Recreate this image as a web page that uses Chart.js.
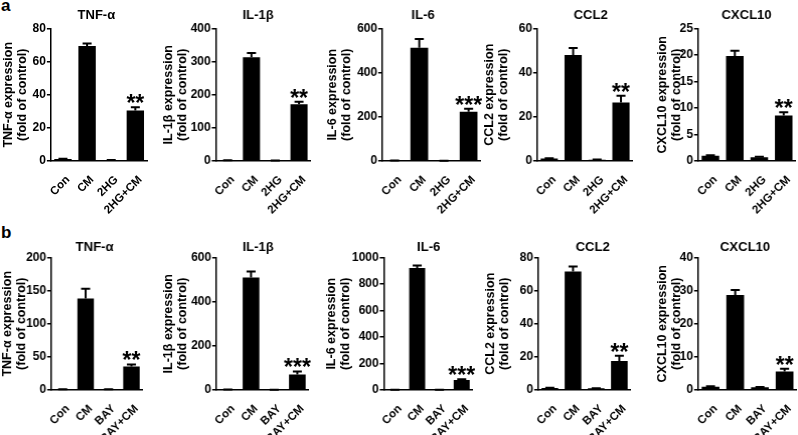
<!DOCTYPE html>
<html><head><meta charset="utf-8">
<script src="https://cdn.jsdelivr.net/npm/chart.js@4.4.1/dist/chart.umd.min.js"></script>
<style>
html,body{margin:0;padding:0;background:#fff;width:798px;height:435px;overflow:hidden;position:relative;font-family:"Liberation Sans",Arial,sans-serif}
.box{position:absolute}
.lbl{position:absolute;font-weight:bold;font-size:17px;line-height:17px;color:#000}
</style></head><body>
<div class="lbl" style="left:1px;top:-3px">a</div>
<div class="lbl" style="left:1px;top:224px">b</div>
<script>
// ---- data ----
const groupsA = ['Con', 'CM', '2HG', '2HG+CM'];
const groupsB = ['Con', 'CM', 'BAY', 'BAY+CM'];
const markers = ['TNF-α', 'IL-1β', 'IL-6', 'CCL2', 'CXCL10'];

const a_TNF    = [1.2, 69.5, 0.5, 30.5];  const a_TNF_err    = [0.2, 1.5, 0.1, 2.0];
const a_IL1b   = [2, 313, 1, 171];        const a_IL1b_err   = [0.5, 13, 0.3, 8];
const a_IL6    = [2, 513, 1, 223];        const a_IL6_err    = [0.5, 40, 0.3, 14];
const a_CCL2   = [1.1, 48, 0.6, 26.5];    const a_CCL2_err   = [0.1, 3.2, 0.1, 3.0];
const a_CXCL10 = [1.0, 19.8, 0.7, 8.6];   const a_CXCL10_err = [0.1, 1.0, 0.1, 0.6];

const b_TNF    = [1, 138, 1, 35.5];       const b_TNF_err    = [0.2, 15, 0.2, 3];
const b_IL1b   = [2, 510, 1, 70];         const b_IL1b_err   = [0.5, 27, 0.3, 14];
const b_IL6    = [2, 920, 1, 75];         const b_IL6_err    = [0.5, 20, 0.3, 6];
const b_CCL2   = [1.2, 71.5, 1, 17.5];    const b_CCL2_err   = [0.1, 3, 0.1, 3.2];
const b_CXCL10 = [1, 28.7, 0.8, 5.6];     const b_CXCL10_err = [0.1, 1.5, 0.1, 0.8];

const a_max  = [80, 400, 600, 60, 25];    const a_step = [20, 100, 200, 20, 5];
const b_max  = [200, 600, 1000, 80, 40];  const b_step = [50, 200, 200, 20, 10];
const a_sig  = ['**', '**', '***', '**', '**'];
const b_sig  = ['**', '***', '***', '**', '**'];

// ---- layout ----
const FONT = "'Liberation Sans', Arial, sans-serif";
const panelA = { groups: groupsA, top: 28.5, bottom: 161, titleY: 15, boxTop: 0, boxBottom: 215 };
const panelB = { groups: groupsB, top: 257.5, bottom: 390, titleY: 247, boxTop: 216, boxBottom: 435 };
const layA = [
  { axisX: 50.5, right: 147, titleX: 96,    ytX: 8.5 },
  { axisX: 215.5, right: 310, titleX: 257.5, ytX: 169 },
  { axisX: 382,  right: 480, titleX: 422.5, ytX: 333 },
  { axisX: 537,  right: 632, titleX: 590,   ytX: 490 },
  { axisX: 698,  right: 795, titleX: 746,   ytX: 663 }
];
const layB = [
  { axisX: 51,  right: 142, titleX: 94,    ytX: 8 },
  { axisX: 216, right: 308, titleX: 257.5, ytX: 169 },
  { axisX: 383.5, right: 472, titleX: 428, ytX: 332 },
  { axisX: 538, right: 630, titleX: 592,   ytX: 491 },
  { axisX: 698, right: 796, titleX: 744.5, ytX: 663 }
];

const aVals = [a_TNF, a_IL1b, a_IL6, a_CCL2, a_CXCL10];
const aErrs = [a_TNF_err, a_IL1b_err, a_IL6_err, a_CCL2_err, a_CXCL10_err];
const bVals = [b_TNF, b_IL1b, b_IL6, b_CCL2, b_CXCL10];
const bErrs = [b_TNF_err, b_IL1b_err, b_IL6_err, b_CCL2_err, b_CXCL10_err];

function makeChart(P, L, marker, values, errors, yMax, yStep, sig) {
  const left = L.ytX - 6.9;
  const width = L.right + 3 - left;
  const div = document.createElement('div');
  div.className = 'box';
  div.style.left = left + 'px';
  div.style.top = P.boxTop + 'px';
  div.style.width = width + 'px';
  div.style.height = (P.boxBottom - P.boxTop) + 'px';
  const cv = document.createElement('canvas');
  div.appendChild(cv);
  document.body.appendChild(div);

  const overlay = {
    id: 'overlay',
    afterDatasetsDraw(chart) {
      const ctx = chart.ctx;
      const ys = chart.scales.y;
      const meta = chart.getDatasetMeta(0);
      ctx.save();
      ctx.strokeStyle = '#000';
      ctx.fillStyle = '#000';
      ctx.lineWidth = 2;
      let lastTop = 0, lastX = 0;
      meta.data.forEach((bar, i) => {
        const x = bar.x;
        const yTop = ys.getPixelForValue(values[i]);
        const yE = ys.getPixelForValue(values[i] + errors[i]);
        ctx.beginPath();
        ctx.moveTo(x, yTop);
        ctx.lineTo(x, yE);
        ctx.moveTo(x - 4.5, yE);
        ctx.lineTo(x + 4.5, yE);
        ctx.stroke();
        lastTop = yE; lastX = x;
      });
      ctx.font = 'bold 23px ' + FONT;
      ctx.textAlign = 'center';
      ctx.textBaseline = 'alphabetic';
      const m = ctx.measureText(sig);
      ctx.fillText(sig, lastX, lastTop - 4 - m.actualBoundingBoxDescent);
      ctx.restore();
    },
    afterDraw(chart) {
      const ctx = chart.ctx;
      ctx.save();
      ctx.fillStyle = '#000';
      ctx.font = 'bold 13px ' + FONT;
      ctx.textAlign = 'center';
      ctx.textBaseline = 'middle';
      ctx.fillText(marker, L.titleX - left, P.titleY - P.boxTop);
      ctx.restore();
    }
  };

  new Chart(cv, {
    type: 'bar',
    data: {
      labels: P.groups,
      datasets: [{ data: values, backgroundColor: '#000', borderWidth: 0, barPercentage: 0.72, categoryPercentage: 1 }]
    },
    options: {
      responsive: true, maintainAspectRatio: false, animation: false, devicePixelRatio: 1,
      layout: { padding: { top: P.top - P.boxTop, right: 3, left: 0, bottom: 0 } },
      plugins: { legend: { display: false }, tooltip: { enabled: false }, title: { display: false } },
      scales: {
        x: {
          grid: { display: false },
          border: { display: true, color: '#000', width: 1.5 },
          ticks: { color: '#000', font: { family: FONT, size: 11.5, weight: 'bold' }, minRotation: 45, maxRotation: 45,
                   autoSkip: false, padding: 4, labelOffset: 5 },
          afterFit(s) { s.height = P.boxBottom - P.bottom; }
        },
        y: {
          min: 0, max: yMax,
          ticks: { stepSize: yStep, color: '#000', font: { family: FONT, size: 12, weight: 'bold' }, padding: 1,
                   callback: (v) => String(v) },
          grid: { drawOnChartArea: false, drawTicks: true, tickLength: 4, color: '#000', lineWidth: 1.5 },
          border: { display: true, color: '#000', width: 1.5 },
          title: { display: true, text: [marker + ' expression', '(fold of control)'], color: '#000',
                   font: { family: FONT, size: 12.5, weight: 'bold', lineHeight: 1.1 }, padding: { top: 0, bottom: 0 } },
          afterFit(s) { s.width = L.axisX - left; }
        }
      }
    },
    plugins: [overlay]
  });
}

for (let i = 0; i < 5; i++) {
  makeChart(panelA, layA[i], markers[i], aVals[i], aErrs[i], a_max[i], a_step[i], a_sig[i]);
  makeChart(panelB, layB[i], markers[i], bVals[i], bErrs[i], b_max[i], b_step[i], b_sig[i]);
}
</script>
</body></html>
